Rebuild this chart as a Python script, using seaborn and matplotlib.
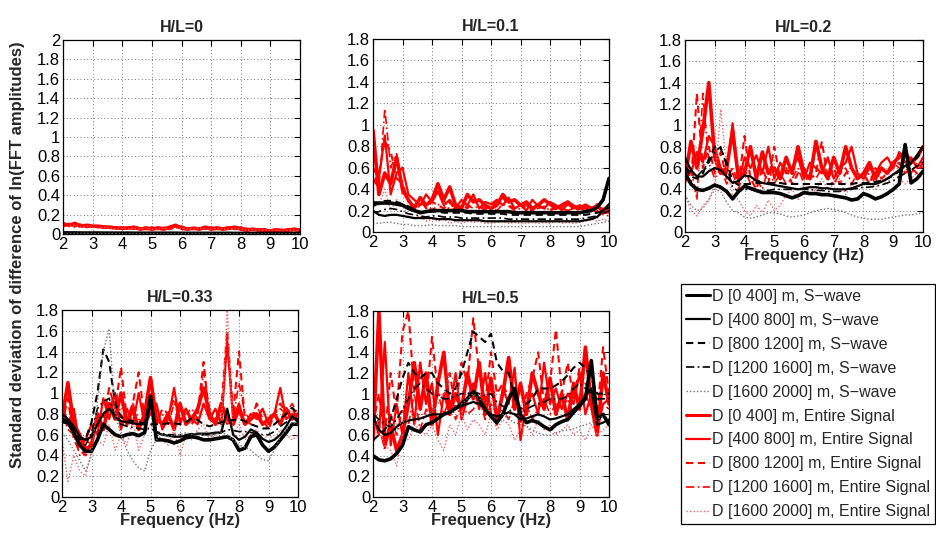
import matplotlib
matplotlib.use("Agg")
import matplotlib.pyplot as plt
import seaborn as sns
from matplotlib.lines import Line2D

# ---------------- data ----------------
freq = [2.0, 2.2, 2.4, 2.6, 2.8, 3.0, 3.2, 3.4, 3.6, 3.8,
        4.0, 4.2, 4.4, 4.6, 4.8, 5.0, 5.2, 5.4, 5.6, 5.8,
        6.0, 6.2, 6.4, 6.6, 6.8, 7.0, 7.2, 7.4, 7.6, 7.8,
        8.0, 8.2, 8.4, 8.6, 8.8, 9.0, 9.2, 9.4, 9.6, 9.8,
        10.0]

panel_titles = ["H/L=0", "H/L=0.1", "H/L=0.2", "H/L=0.33", "H/L=0.5"]
series_labels = ["D [0 400] m, S\u2212wave", "D [400 800] m, S\u2212wave",
                 "D [800 1200] m, S\u2212wave", "D [1200 1600] m, S\u2212wave",
                 "D [1600 2000] m, S\u2212wave",
                 "D [0 400] m, Entire Signal", "D [400 800] m, Entire Signal",
                 "D [800 1200] m, Entire Signal", "D [1200 1600] m, Entire Signal",
                 "D [1600 2000] m, Entire Signal"]
xticks = [2, 3, 4, 5, 6, 7, 8, 9, 10]
yticks_hl0 = [0, 0.2, 0.4, 0.6, 0.8, 1, 1.2, 1.4, 1.6, 1.8, 2]
yticklabels_hl0 = ["0", "0.2", "0.4", "0.6", "0.8", "1", "1.2", "1.4", "1.6", "1.8", "2"]
yticks_other = [0, 0.2, 0.4, 0.6, 0.8, 1, 1.2, 1.4, 1.6, 1.8]
yticklabels_other = ["0", "0.2", "0.4", "0.6", "0.8", "1", "1.2", "1.4", "1.6", "1.8"]

# H/L = 0
hl00_sw1 = [.012, .011, .011, .010, .010, .010, .010, .009, .009, .009,
            .009, .009, .008, .008, .008, .008, .008, .008, .008, .008,
            .007, .007, .007, .007, .007, .007, .007, .007, .007, .006,
            .006, .006, .006, .006, .006, .006, .006, .006, .006, .006,
            .006]
hl00_sw2 = [.009, .009, .008, .008, .008, .008, .007, .007, .007, .007,
            .007, .007, .006, .006, .006, .006, .006, .006, .006, .006,
            .006, .005, .005, .005, .005, .005, .005, .005, .005, .005,
            .005, .005, .005, .005, .005, .005, .005, .005, .005, .005,
            .005]
hl00_sw3 = [.010, .010, .009, .009, .009, .008, .008, .008, .008, .008,
            .007, .007, .007, .007, .007, .007, .007, .007, .006, .006,
            .006, .006, .006, .006, .006, .006, .006, .006, .006, .006,
            .005, .005, .005, .005, .005, .005, .005, .005, .005, .005,
            .005]
hl00_sw4 = [.008, .008, .008, .007, .007, .007, .007, .007, .006, .006,
            .006, .006, .006, .006, .006, .006, .005, .005, .005, .005,
            .005, .005, .005, .005, .005, .005, .005, .005, .005, .005,
            .004, .004, .004, .004, .004, .004, .004, .004, .004, .004,
            .004]
hl00_sw5 = [.006, .006, .006, .005, .005, .005, .005, .005, .005, .005,
            .004, .004, .004, .004, .004, .004, .004, .004, .004, .004,
            .004, .004, .004, .004, .004, .004, .004, .004, .004, .004,
            .003, .003, .003, .003, .003, .003, .003, .003, .003, .003,
            .003]
hl00_es1 = [0.10, 0.09, 0.11, 0.08, 0.09, 0.08, 0.08, 0.07, 0.07, 0.06,
            0.06, 0.06, 0.07, 0.05, 0.06, 0.05, 0.06, 0.05, 0.07, 0.09,
            0.06, 0.05, 0.06, 0.05, 0.07, 0.05, 0.06, 0.05, 0.06, 0.07,
            0.05, 0.04, 0.05, 0.04, 0.04, 0.03, 0.04, 0.03, 0.04, 0.05,
            0.04]
hl00_es2 = [0.08, 0.10, 0.08, 0.09, 0.07, 0.08, 0.07, 0.08, 0.06, 0.07,
            0.05, 0.07, 0.06, 0.06, 0.05, 0.07, 0.05, 0.06, 0.05, 0.08,
            0.07, 0.06, 0.05, 0.06, 0.06, 0.07, 0.05, 0.06, 0.07, 0.05,
            0.06, 0.05, 0.04, 0.05, 0.04, 0.04, 0.05, 0.04, 0.04, 0.04,
            0.03]
hl00_es3 = [0.12, 0.08, 0.09, 0.10, 0.08, 0.07, 0.08, 0.06, 0.07, 0.06,
            0.07, 0.05, 0.06, 0.07, 0.06, 0.05, 0.07, 0.06, 0.05, 0.07,
            0.08, 0.05, 0.06, 0.07, 0.05, 0.06, 0.07, 0.06, 0.05, 0.06,
            0.07, 0.05, 0.05, 0.04, 0.05, 0.04, 0.03, 0.04, 0.05, 0.04,
            0.04]
hl00_es4 = [0.09, 0.11, 0.07, 0.08, 0.09, 0.07, 0.07, 0.08, 0.06, 0.06,
            0.07, 0.06, 0.05, 0.06, 0.07, 0.06, 0.05, 0.07, 0.06, 0.06,
            0.07, 0.06, 0.05, 0.05, 0.06, 0.06, 0.05, 0.07, 0.06, 0.06,
            0.05, 0.06, 0.04, 0.05, 0.05, 0.04, 0.04, 0.05, 0.03, 0.04,
            0.04]
hl00_es5 = [0.07, 0.08, 0.09, 0.07, 0.08, 0.07, 0.06, 0.07, 0.06, 0.05,
            0.06, 0.05, 0.06, 0.05, 0.06, 0.05, 0.05, 0.06, 0.05, 0.06,
            0.06, 0.05, 0.05, 0.06, 0.05, 0.05, 0.06, 0.05, 0.05, 0.06,
            0.05, 0.04, 0.05, 0.04, 0.04, 0.04, 0.04, 0.03, 0.04, 0.04,
            0.03]

# H/L = 0.1
hl01_sw1 = [0.27, 0.27, 0.27, 0.27, 0.26, 0.25, 0.22, 0.20, 0.18, 0.19,
            0.20, 0.20, 0.20, 0.20, 0.20, 0.20, 0.19, 0.19, 0.19, 0.19,
            0.19, 0.19, 0.19, 0.19, 0.18, 0.18, 0.18, 0.18, 0.18, 0.18,
            0.18, 0.18, 0.18, 0.18, 0.18, 0.18, 0.19, 0.20, 0.23, 0.30,
            0.50]
hl01_sw2 = [0.20, 0.16, 0.15, 0.16, 0.16, 0.15, 0.14, 0.13, 0.13, 0.13,
            0.13, 0.12, 0.12, 0.12, 0.11, 0.11, 0.11, 0.11, 0.11, 0.10,
            0.10, 0.10, 0.10, 0.10, 0.10, 0.10, 0.10, 0.10, 0.10, 0.10,
            0.10, 0.10, 0.10, 0.10, 0.10, 0.10, 0.11, 0.12, 0.14, 0.20,
            0.26]
hl01_sw3 = [0.24, 0.27, 0.29, 0.29, 0.28, 0.26, 0.24, 0.21, 0.19, 0.18,
            0.19, 0.19, 0.18, 0.18, 0.18, 0.18, 0.18, 0.17, 0.17, 0.17,
            0.17, 0.17, 0.17, 0.16, 0.16, 0.16, 0.16, 0.16, 0.16, 0.16,
            0.16, 0.16, 0.16, 0.16, 0.16, 0.16, 0.16, 0.17, 0.18, 0.20,
            0.23]
hl01_sw4 = [0.18, 0.19, 0.21, 0.22, 0.21, 0.19, 0.17, 0.16, 0.15, 0.14,
            0.15, 0.15, 0.14, 0.14, 0.14, 0.13, 0.13, 0.13, 0.13, 0.13,
            0.13, 0.13, 0.13, 0.12, 0.12, 0.12, 0.12, 0.12, 0.12, 0.12,
            0.12, 0.12, 0.12, 0.12, 0.12, 0.12, 0.13, 0.14, 0.15, 0.17,
            0.20]
hl01_sw5 = [0.08, 0.08, 0.09, 0.09, 0.08, 0.07, 0.07, 0.06, 0.06, 0.06,
            0.07, 0.06, 0.06, 0.06, 0.06, 0.05, 0.05, 0.05, 0.05, 0.05,
            0.05, 0.05, 0.05, 0.05, 0.05, 0.05, 0.05, 0.05, 0.05, 0.05,
            0.05, 0.05, 0.05, 0.05, 0.05, 0.05, 0.06, 0.07, 0.08, 0.09,
            0.10]
hl01_es1 = [0.95, 0.35, 0.55, 0.45, 0.70, 0.40, 0.30, 0.22, 0.32, 0.25,
            0.30, 0.45, 0.30, 0.42, 0.25, 0.22, 0.35, 0.28, 0.30, 0.25,
            0.22, 0.25, 0.35, 0.28, 0.30, 0.25, 0.28, 0.22, 0.25, 0.30,
            0.26, 0.22, 0.25, 0.28, 0.24, 0.22, 0.25, 0.22, 0.24, 0.20,
            0.22]
hl01_es2 = [0.60, 0.50, 0.90, 0.35, 0.55, 0.60, 0.35, 0.30, 0.25, 0.35,
            0.28, 0.38, 0.25, 0.30, 0.22, 0.30, 0.25, 0.35, 0.22, 0.28,
            0.26, 0.30, 0.25, 0.32, 0.22, 0.25, 0.20, 0.30, 0.24, 0.22,
            0.28, 0.25, 0.20, 0.26, 0.22, 0.25, 0.22, 0.20, 0.26, 0.18,
            0.18]
hl01_es3 = [0.45, 0.55, 0.85, 0.75, 0.50, 0.45, 0.28, 0.25, 0.30, 0.22,
            0.28, 0.25, 0.22, 0.28, 0.20, 0.25, 0.22, 0.30, 0.25, 0.22,
            0.24, 0.28, 0.32, 0.25, 0.22, 0.26, 0.22, 0.20, 0.25, 0.22,
            0.20, 0.24, 0.22, 0.20, 0.23, 0.20, 0.24, 0.22, 0.18, 0.22,
            0.20]
hl01_es4 = [0.50, 0.40, 1.15, 0.60, 0.73, 0.35, 0.30, 0.20, 0.25, 0.28,
            0.20, 0.25, 0.30, 0.20, 0.22, 0.20, 0.25, 0.22, 0.24, 0.20,
            0.22, 0.20, 0.26, 0.24, 0.20, 0.22, 0.25, 0.20, 0.22, 0.24,
            0.20, 0.22, 0.24, 0.20, 0.22, 0.20, 0.22, 0.24, 0.20, 0.16,
            0.15]
hl01_es5 = [0.30, 0.25, 0.40, 0.20, 0.30, 0.25, 0.15, 0.12, 0.15, 0.10,
            0.12, 0.10, 0.12, 0.08, 0.10, 0.08, 0.10, 0.09, 0.10, 0.08,
            0.08, 0.09, 0.10, 0.08, 0.09, 0.08, 0.08, 0.09, 0.08, 0.09,
            0.08, 0.10, 0.08, 0.09, 0.08, 0.09, 0.10, 0.12, 0.10, 0.12,
            0.10]

# H/L = 0.2
hl02_sw1 = [0.55, 0.45, 0.40, 0.39, 0.41, 0.44, 0.42, 0.38, 0.31, 0.38,
            0.43, 0.41, 0.39, 0.37, 0.37, 0.37, 0.36, 0.34, 0.32, 0.34,
            0.37, 0.36, 0.36, 0.35, 0.35, 0.34, 0.33, 0.32, 0.30, 0.31,
            0.36, 0.34, 0.31, 0.33, 0.36, 0.40, 0.45, 0.82, 0.46, 0.50,
            0.57]
hl02_sw2 = [0.70, 0.58, 0.52, 0.52, 0.57, 0.60, 0.58, 0.52, 0.46, 0.48,
            0.53, 0.52, 0.48, 0.46, 0.45, 0.44, 0.43, 0.42, 0.41, 0.40,
            0.41, 0.42, 0.42, 0.41, 0.41, 0.40, 0.40, 0.40, 0.41, 0.43,
            0.45, 0.45, 0.45, 0.47, 0.50, 0.54, 0.58, 0.62, 0.65, 0.72,
            0.80]
hl02_sw3 = [0.60, 0.52, 0.50, 0.55, 0.68, 0.80, 0.78, 0.65, 0.48, 0.44,
            0.45, 0.45, 0.46, 0.46, 0.46, 0.46, 0.46, 0.45, 0.45, 0.45,
            0.45, 0.45, 0.45, 0.45, 0.45, 0.45, 0.45, 0.45, 0.45, 0.46,
            0.46, 0.46, 0.47, 0.48, 0.50, 0.53, 0.57, 0.60, 0.64, 0.70,
            0.76]
hl02_sw4 = [0.62, 0.55, 0.52, 0.58, 0.65, 0.75, 0.80, 0.62, 0.42, 0.38,
            0.40, 0.40, 0.38, 0.38, 0.39, 0.40, 0.40, 0.40, 0.40, 0.40,
            0.40, 0.40, 0.39, 0.39, 0.38, 0.38, 0.38, 0.39, 0.40, 0.41,
            0.42, 0.42, 0.43, 0.44, 0.46, 0.48, 0.52, 0.55, 0.58, 0.62,
            0.66]
hl02_sw5 = [0.35, 0.25, 0.20, 0.22, 0.30, 0.40, 0.38, 0.28, 0.20, 0.18,
            0.14, 0.13, 0.14, 0.16, 0.18, 0.18, 0.17, 0.15, 0.14, 0.15,
            0.16, 0.18, 0.20, 0.21, 0.22, 0.21, 0.20, 0.18, 0.16, 0.14,
            0.13, 0.12, 0.12, 0.12, 0.13, 0.14, 0.15, 0.16, 0.16, 0.17,
            0.18]
hl02_es1 = [0.50, 0.85, 0.60, 0.95, 1.40, 0.70, 0.55, 0.60, 0.95, 0.50,
            0.55, 0.80, 0.50, 0.75, 0.55, 0.60, 0.50, 0.70, 0.55, 0.80,
            0.55, 0.50, 0.85, 0.60, 0.50, 0.70, 0.55, 0.80, 0.60, 0.50,
            0.55, 0.65, 0.50, 0.60, 0.55, 0.65, 0.70, 0.75, 0.65, 0.70,
            0.80]
hl02_es2 = [0.60, 0.55, 0.75, 0.65, 0.90, 0.80, 0.60, 0.55, 1.02, 0.45,
            0.70, 0.60, 0.72, 0.55, 0.80, 0.50, 0.65, 0.55, 0.60, 0.70,
            0.50, 0.65, 0.60, 0.55, 0.70, 0.50, 0.60, 0.65, 0.80, 0.55,
            0.50, 0.60, 0.55, 0.65, 0.70, 0.60, 0.75, 0.65, 0.70, 0.60,
            0.70]
hl02_es3 = [0.70, 0.45, 1.30, 0.60, 0.80, 0.55, 0.75, 0.50, 0.60, 0.45,
            0.90, 0.50, 0.40, 0.60, 0.45, 0.80, 0.50, 0.60, 0.45, 0.55,
            0.60, 0.50, 0.55, 0.85, 0.50, 0.60, 0.45, 0.55, 0.60, 0.50,
            0.55, 0.45, 0.60, 0.50, 0.55, 0.60, 0.65, 0.55, 0.60, 0.55,
            0.65]
hl02_es4 = [0.45, 0.60, 0.30, 1.30, 0.65, 0.50, 0.60, 0.45, 0.55, 0.40,
            0.60, 0.45, 0.50, 0.40, 0.60, 0.45, 0.55, 0.45, 0.50, 0.60,
            0.45, 0.55, 0.50, 0.60, 0.50, 0.45, 0.55, 0.60, 0.45, 0.55,
            0.50, 0.55, 0.45, 0.60, 0.55, 0.65, 0.60, 0.60, 0.55, 0.65,
            0.60]
hl02_es5 = [0.35, 0.20, 0.15, 0.25, 0.30, 0.45, 1.15, 0.60, 0.35, 0.30,
            0.20, 0.15, 0.25, 0.18, 0.30, 0.20, 0.25, 0.35, 0.40, 0.30,
            0.45, 0.35, 0.40, 0.50, 0.40, 0.45, 0.50, 0.35, 0.45, 0.40,
            0.50, 0.45, 0.40, 0.50, 0.45, 0.55, 0.50, 0.45, 0.50, 0.55,
            0.50]

# H/L = 0.33
hl033_sw1 = [0.75, 0.72, 0.62, 0.50, 0.44, 0.44, 0.55, 0.70, 0.65, 0.60,
             0.58, 0.60, 0.61, 0.59, 0.62, 0.97, 0.55, 0.55, 0.54, 0.52,
             0.54, 0.57, 0.58, 0.57, 0.55, 0.55, 0.56, 0.57, 0.58, 0.55,
             0.45, 0.47, 0.58, 0.60, 0.50, 0.44, 0.48, 0.55, 0.62, 0.70,
             0.70]
hl033_sw2 = [0.80, 0.75, 0.68, 0.58, 0.55, 0.58, 0.70, 0.80, 0.85, 0.77,
             0.73, 0.72, 0.71, 0.70, 0.70, 0.95, 0.62, 0.60, 0.59, 0.58,
             0.58, 0.59, 0.60, 0.61, 0.61, 0.61, 0.62, 0.62, 0.85, 0.60,
             0.55, 0.58, 0.65, 0.62, 0.56, 0.53, 0.55, 0.60, 0.68, 0.78,
             0.72]
hl033_sw3 = [0.75, 0.72, 0.66, 0.56, 0.56, 0.72, 1.00, 1.42, 1.30, 0.90,
             0.77, 0.74, 0.73, 0.72, 0.71, 0.70, 0.70, 0.70, 0.71, 0.71,
             0.70, 0.72, 0.76, 0.74, 0.70, 0.68, 0.70, 0.72, 0.74, 0.74,
             0.75, 0.73, 0.70, 0.68, 0.66, 0.66, 0.70, 0.75, 0.80, 0.86,
             0.80]
hl033_sw4 = [0.72, 0.70, 0.62, 0.52, 0.50, 0.62, 0.85, 0.92, 0.95, 0.78,
             0.70, 0.68, 0.67, 0.66, 0.65, 0.66, 0.63, 0.61, 0.60, 0.60,
             0.60, 0.60, 0.61, 0.60, 0.60, 0.60, 0.61, 0.62, 0.65, 0.64,
             0.63, 0.63, 0.62, 0.61, 0.60, 0.60, 0.63, 0.68, 0.72, 0.76,
             0.75]
hl033_sw5 = [0.62, 0.55, 0.45, 0.35, 0.25, 0.40, 0.90, 1.40, 1.62, 0.80,
             0.60, 0.45, 0.35, 0.28, 0.25, 0.45, 0.55, 0.60, 0.58, 0.60,
             0.60, 0.62, 0.60, 0.62, 0.60, 0.58, 0.60, 0.62, 0.60, 0.55,
             0.50, 0.48, 0.45, 0.40, 0.36, 0.35, 0.45, 0.58, 0.65, 0.72,
             0.70]
hl033_es1 = [0.75, 1.10, 0.70, 0.60, 0.45, 0.50, 0.80, 0.65, 0.90, 0.75,
             1.00, 0.70, 0.85, 0.65, 0.80, 1.15, 0.75, 0.70, 0.80, 0.65,
             0.90, 0.70, 0.75, 0.85, 1.05, 0.80, 0.70, 0.90, 0.75, 0.70,
             0.85, 0.70, 0.75, 0.80, 0.70, 0.75, 0.80, 0.70, 0.85, 0.75,
             0.80]
hl033_es2 = [0.90, 0.70, 0.85, 0.50, 0.55, 0.70, 0.60, 0.95, 0.75, 1.00,
             0.65, 0.85, 0.70, 1.00, 0.70, 0.80, 0.90, 0.65, 0.75, 1.05,
             0.70, 0.85, 0.75, 0.70, 0.90, 0.75, 0.85, 0.70, 1.50, 0.75,
             0.90, 0.70, 0.80, 0.75, 0.85, 0.70, 0.80, 1.05, 0.75, 0.80,
             0.75]
hl033_es3 = [0.70, 0.95, 0.55, 0.45, 0.40, 0.55, 0.70, 0.75, 1.05, 0.85,
             1.25, 0.75, 0.90, 1.20, 0.75, 1.00, 0.70, 0.85, 0.80, 0.95,
             0.75, 0.85, 0.70, 0.80, 1.30, 0.75, 0.70, 0.85, 1.60, 0.80,
             1.40, 0.75, 0.70, 0.90, 0.75, 0.65, 0.80, 0.90, 0.80, 0.85,
             0.75]
hl033_es4 = [0.80, 0.65, 0.60, 0.40, 0.45, 0.60, 0.75, 0.70, 0.85, 1.00,
             0.80, 0.70, 0.90, 0.75, 0.70, 0.85, 0.75, 0.80, 0.70, 0.90,
             0.75, 0.80, 0.85, 0.75, 1.20, 0.85, 0.75, 0.80, 0.70, 0.75,
             1.10, 0.80, 0.75, 0.90, 0.70, 0.75, 0.80, 0.85, 0.80, 0.90,
             0.80]
hl033_es5 = [0.55, 0.15, 0.40, 0.25, 0.20, 0.45, 0.55, 0.50, 0.70, 0.45,
             0.60, 0.50, 0.75, 0.45, 0.60, 0.70, 0.60, 0.55, 0.50, 0.65,
             0.40, 0.60, 0.55, 0.65, 0.70, 0.55, 0.60, 0.65, 1.80, 0.60,
             0.70, 0.55, 0.60, 0.65, 0.55, 0.60, 0.55, 0.65, 0.60, 0.55,
             0.60]

# H/L = 0.5
hl05_sw1 = [0.40, 0.36, 0.35, 0.37, 0.42, 0.50, 0.68, 0.65, 0.63, 0.70,
            0.72, 0.76, 0.80, 0.82, 0.86, 0.90, 0.95, 1.02, 0.95, 0.85,
            0.78, 0.72, 0.80, 0.95, 1.05, 0.80, 0.72, 0.74, 0.72, 0.68,
            0.65, 0.70, 0.73, 0.75, 0.82, 0.88, 0.95, 1.32, 0.75, 0.80,
            0.70]
hl05_sw2 = [0.78, 0.65, 0.60, 0.62, 0.68, 0.72, 0.74, 0.75, 0.76, 0.78,
            0.80, 0.80, 0.80, 0.82, 0.85, 0.88, 0.90, 0.92, 0.90, 0.85,
            0.80, 0.78, 0.80, 0.82, 0.80, 0.75, 0.76, 0.78, 0.80, 0.78,
            0.75, 0.76, 0.78, 0.80, 0.85, 0.90, 0.98, 1.05, 0.70, 0.72,
            0.75]
hl05_sw3 = [0.55, 0.60, 0.65, 0.75, 0.95, 1.15, 1.30, 1.20, 1.15, 1.20,
            1.20, 1.10, 1.05, 1.00, 1.05, 1.20, 1.40, 1.60, 1.55, 1.50,
            1.58, 1.30, 1.22, 1.20, 0.95, 0.85, 0.90, 0.95, 1.05, 1.05,
            1.05, 1.08, 1.12, 1.18, 1.25, 1.30, 1.25, 1.15, 1.00, 1.00,
            1.00]
hl05_sw4 = [0.80, 0.75, 0.70, 0.68, 0.75, 0.85, 0.95, 1.05, 1.10, 1.05,
            1.00, 0.98, 0.95, 0.95, 0.98, 1.00, 1.00, 1.02, 1.00, 0.98,
            1.00, 0.92, 0.88, 0.85, 0.80, 0.80, 0.85, 0.88, 0.90, 0.92,
            0.95, 0.95, 0.95, 0.98, 1.05, 1.10, 1.05, 1.00, 0.95, 0.95,
            0.95]
hl05_sw5 = [0.70, 0.70, 0.68, 0.70, 0.70, 0.72, 0.75, 0.78, 0.80, 0.80,
            0.82, 0.90, 1.00, 1.20, 1.10, 0.90, 0.95, 1.00, 0.95, 0.92,
            0.90, 0.85, 0.80, 0.75, 0.72, 0.70, 0.68, 0.65, 0.62, 0.60,
            0.60, 0.62, 0.64, 0.65, 0.66, 0.68, 0.70, 0.72, 0.75, 0.78,
            0.80]
hl05_es1 = [0.55, 1.80, 0.50, 0.70, 0.45, 0.60, 0.90, 1.30, 0.85, 1.20,
            0.70, 1.10, 1.40, 0.80, 1.00, 0.85, 1.20, 0.95, 1.30, 0.80,
            1.15, 0.75, 1.00, 1.35, 0.85, 1.10, 0.80, 1.20, 1.00, 0.85,
            1.15, 0.80, 1.00, 0.75, 1.10, 0.85, 1.45, 0.90, 0.60, 1.20,
            0.90]
hl05_es2 = [0.80, 0.60, 1.50, 0.50, 0.90, 0.60, 1.20, 0.70, 1.30, 0.90,
            1.10, 0.60, 1.00, 0.80, 1.20, 0.75, 0.95, 1.10, 0.85, 1.20,
            0.80, 0.70, 1.05, 0.90, 1.25, 0.55, 0.90, 1.00, 0.80, 1.30,
            0.90, 1.05, 0.85, 1.00, 0.90, 1.20, 0.80, 1.00, 0.65, 0.90,
            0.95]
hl05_es3 = [0.70, 1.00, 0.60, 1.20, 0.80, 1.60, 1.80, 1.00, 1.30, 0.90,
            1.55, 1.00, 0.95, 1.20, 0.85, 1.30, 1.10, 1.73, 1.20, 0.90,
            1.40, 1.00, 1.10, 0.95, 1.20, 0.70, 1.00, 1.15, 1.40, 0.90,
            1.10, 1.62, 1.00, 1.30, 0.95, 1.25, 1.10, 1.00, 0.80, 1.45,
            1.00]
hl05_es4 = [0.90, 0.70, 0.45, 0.80, 0.60, 0.85, 0.70, 1.00, 0.65, 0.85,
            0.75, 1.00, 0.80, 0.95, 0.75, 0.90, 0.80, 0.85, 0.95, 0.75,
            0.90, 0.80, 0.85, 0.75, 0.95, 0.80, 0.90, 0.75, 0.85, 0.95,
            0.80, 0.90, 0.85, 0.95, 0.80, 0.90, 1.00, 0.85, 0.75, 0.90,
            0.85]
hl05_es5 = [0.60, 0.65, 0.50, 0.45, 0.30, 0.60, 0.55, 0.70, 0.65, 0.60,
            0.70, 0.55, 0.45, 0.70, 0.60, 0.80, 0.65, 0.75, 0.70, 0.60,
            0.80, 0.65, 0.75, 0.70, 0.55, 0.65, 0.70, 0.60, 0.75, 0.65,
            0.70, 0.60, 0.65, 0.70, 0.60, 0.65, 0.55, 0.70, 0.60, 0.65,
            0.70]

panels = [
    ([hl00_sw1, hl00_sw2, hl00_sw3, hl00_sw4, hl00_sw5],
     [hl00_es1, hl00_es2, hl00_es3, hl00_es4, hl00_es5]),
    ([hl01_sw1, hl01_sw2, hl01_sw3, hl01_sw4, hl01_sw5],
     [hl01_es1, hl01_es2, hl01_es3, hl01_es4, hl01_es5]),
    ([hl02_sw1, hl02_sw2, hl02_sw3, hl02_sw4, hl02_sw5],
     [hl02_es1, hl02_es2, hl02_es3, hl02_es4, hl02_es5]),
    ([hl033_sw1, hl033_sw2, hl033_sw3, hl033_sw4, hl033_sw5],
     [hl033_es1, hl033_es2, hl033_es3, hl033_es4, hl033_es5]),
    ([hl05_sw1, hl05_sw2, hl05_sw3, hl05_sw4, hl05_sw5],
     [hl05_es1, hl05_es2, hl05_es3, hl05_es4, hl05_es5]),
]

# ---------------- styling ----------------
sns.set_style("white")
plt.rcParams["font.family"] = ["Liberation Sans", "DejaVu Sans"]

W, H = 936, 536
fig = plt.figure(figsize=(W / 100, H / 100), dpi=100)

# axes boxes in pixels: left, top, right, bottom
boxes = [(63, 40, 300, 234), (373, 39, 609, 232), (685, 40, 923, 232),
         (62, 310, 298, 497), (373, 311, 609, 497)]

sw_styles = [dict(color="black", lw=2.6, ls="-"),
             dict(color="black", lw=1.6, ls="-"),
             dict(color="black", lw=1.5, ls=(0, (3.5, 2.2))),
             dict(color="black", lw=1.2, ls=(0, (5, 2, 1, 2))),
             dict(color="0.45", lw=1.0, ls=(0, (1, 1.5)))]
es_styles = [dict(color="#ff0000", lw=2.6, ls="-"),
             dict(color="#ff0000", lw=1.6, ls="-"),
             dict(color="#ff0000", lw=1.5, ls=(0, (3.5, 2.2))),
             dict(color="#ff0000", lw=1.2, ls=(0, (5, 2, 1, 2))),
             dict(color="#ff6060", lw=1.0, ls=(0, (1, 1.5)))]

for i, (box, (sws, ess)) in enumerate(zip(boxes, panels)):
    l, t, r, b = box
    ax = fig.add_axes([l / W, 1 - b / H, (r - l) / W, (b - t) / H])
    for vals, st in zip(ess, es_styles):
        sns.lineplot(x=freq, y=vals, ax=ax, color=st["color"], linewidth=st["lw"],
                     linestyle=st["ls"], estimator=None, sort=False, legend=False)
    for vals, st in zip(sws, sw_styles):
        sns.lineplot(x=freq, y=vals, ax=ax, color=st["color"], linewidth=st["lw"],
                     linestyle=st["ls"], estimator=None, sort=False, legend=False)
    ax.set_xlim(2, 10)
    ax.set_xticks(xticks)
    ax.set_xticklabels([str(v) for v in xticks])
    if i == 0:
        ax.set_ylim(0, 2)
        ax.set_yticks(yticks_hl0)
        ax.set_yticklabels(yticklabels_hl0)
    else:
        ax.set_ylim(0, 1.8)
        ax.set_yticks(yticks_other)
        ax.set_yticklabels(yticklabels_other)
    ax.grid(True, linestyle=(0, (1, 2.5)), color="0.45", linewidth=0.7)
    ax.set_axisbelow(True)
    ax.tick_params(direction="in", top=True, right=True, length=4, width=0.8,
                   labelsize=12, pad=2, colors="black")
    for sp in ax.spines.values():
        sp.set_color("black")
        sp.set_linewidth(0.9)
    ax.set_title(panel_titles[i], fontsize=11.5, fontweight="bold", pad=6)
    ax.set_xlabel("Frequency (Hz)" if i >= 2 else "", fontsize=12,
                  fontweight="bold", labelpad=-1)
    ax.set_ylabel("")

fig.text(0.019, 0.525, "Standard deviation of difference of ln(FFT amplitudes)",
         rotation=90, ha="center", va="center", fontsize=12, fontweight="bold")

handles = []
for st in sw_styles + es_styles:
    handles.append(Line2D([0], [0], color=st["color"], lw=min(st["lw"], 2.2),
                          linestyle=st["ls"]))
leg = fig.legend(handles, series_labels, loc="upper left",
                 bbox_to_anchor=(681 / W, 6 / H, 254 / W, 246 / H),
                 mode="expand", fontsize=11.5,
                 frameon=True, fancybox=False, edgecolor="black",
                 framealpha=1, borderpad=0.3, labelspacing=0.56,
                 handlelength=1.5, handletextpad=0.15, borderaxespad=0)
leg.get_frame().set_linewidth(0.9)

fig.savefig("out.png", dpi=100)
